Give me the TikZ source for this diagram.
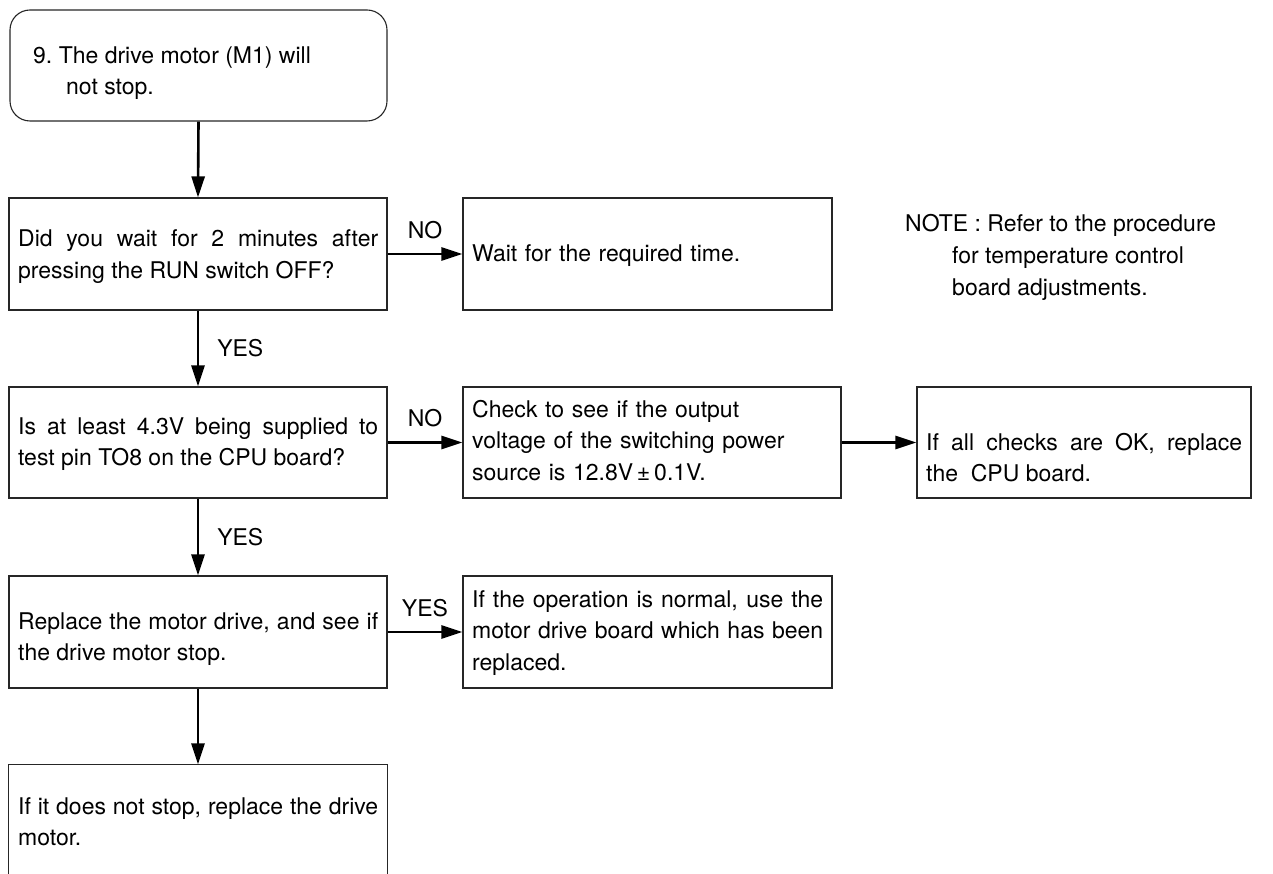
\documentclass[tikz,border=0pt]{standalone}
\usepackage{fontspec}
\setmainfont{TeX Gyre Heros}
\usetikzlibrary{arrows.meta}
\begin{document}
\begin{tikzpicture}[x=1pt,y=-1pt,
  box/.style={draw=black!85,line width=1.1pt,minimum height=112pt,inner sep=0pt,rectangle},
  txt/.style={anchor=base west,inner sep=0pt,align=justify,font=\fontsize{23}{31.5}\selectfont},
  lbl/.style={inner sep=0pt,font=\fontsize{23}{31.5}\selectfont},
  arr/.style={line width=2.6pt,-{Triangle[length=21pt,width=13pt]}},
  every node/.append style={text=black}]
\useasboundingbox (0,0) rectangle (1273,874);
% boxes
\node[box,rounded corners=20pt,minimum width=377pt,minimum height=111pt] (top) at (198.5,65.5) {};
\node[box,minimum width=378pt] (b1) at (198,254) {};
\node[box,minimum width=369pt] (b2) at (647.5,254) {};
\node[box,minimum width=378pt,minimum height=111pt] (b3) at (198,442.5) {};
\node[box,minimum width=378pt,minimum height=111pt] (b4) at (652,442.5) {};
\node[box,minimum width=334pt,minimum height=111pt] (b5) at (1084,442.5) {};
\node[box,minimum width=378pt] (b6) at (198,632) {};
\node[box,minimum width=369pt] (b7) at (647.5,632) {};
\node[box,draw=none,minimum width=378pt,minimum height=109pt] (b8) at (198,819.5) {};
\draw[draw=black!85,line width=1.1pt] (b8.south west) |- (b8.north east) -- (b8.south east);
% texts
\node[lbl,anchor=base west,align=left] (t0) at (33,95) {9.~The drive motor (M1) will\\\hspace*{33pt}not stop.};
\node[txt,text width=360pt] (t1) at (18,247) {Did you wait for 2 minutes after\linebreak pressing the RUN switch OFF?};
\node[txt,text width=350pt,align=left] (t2) at (472,262) {Wait for the required time.};
\node[txt,text width=360pt] (t3) at (18,434) {Is at least 4.3V being supplied to\linebreak test pin TO8 on the CPU board?};
\node[txt,text width=360pt,align=left] (t4) at (472,417) {Check to see if the output\\voltage of the switching power\\source is 12.8V\,±\,0.1V.};
\node[txt,text width=316pt] (t5) at (926,450) {If all checks are OK, replace\linebreak the\ \ CPU board.};
\node[txt,text width=360pt] (t6) at (18,629) {Replace the motor drive, and see if\linebreak the drive motor stop.};
\node[txt,text width=351pt] (t7) at (472,607) {If the operation is normal, use the\linebreak motor drive board which has been\linebreak replaced.};
\node[txt,text width=360pt] (t8) at (18,814) {If it does not stop, replace the drive\linebreak motor.};
\node[lbl,anchor=base west,align=left] (note) at (905,295) {NOTE : Refer to the procedure\\\hspace*{47pt}for temperature control\\\hspace*{47pt}board adjustments.};
% connectors
\draw[arr] (top.south) -- (b1.north);
\draw[arr] (b1.south) -- node[lbl,right=18pt] (y1) {YES} (b3.north);
\draw[arr] (b3.south) -- node[lbl,right=18pt] (y2) {YES} (b6.north);
\draw[arr] (b6.south) -- (b8.north);
\draw[arr] (b1.east) -- node[lbl,above=14pt] (n1) {NO} (b2.west);
\draw[arr] (b3.east) -- node[lbl,above=14pt] (n2) {NO} (b4.west);
\draw[arr] (b4.east) -- (b5.west);
\draw[arr] (b6.east) -- node[lbl,above=14pt] (y3) {YES} (b7.west);
\end{tikzpicture}
\end{document}
